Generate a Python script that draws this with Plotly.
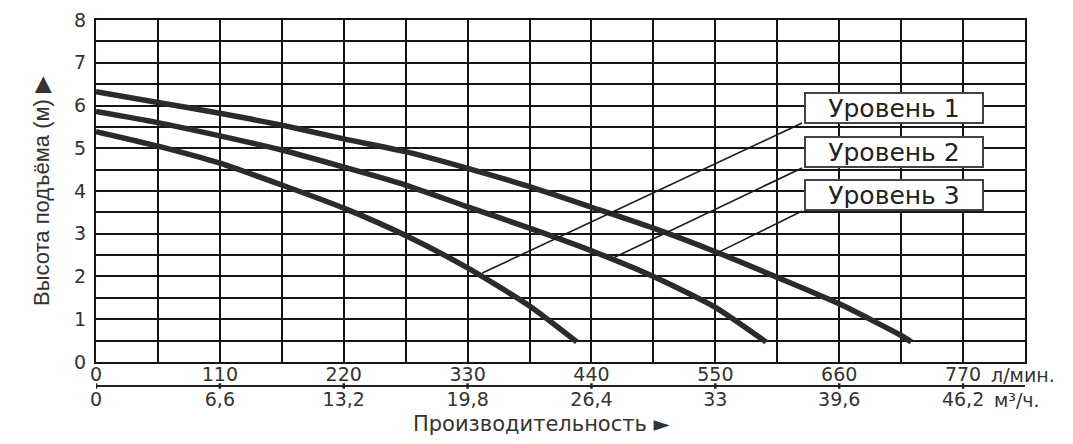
import plotly.graph_objects as go

# расход, л/мин и напор, м для трёх уровней
FLOW_L1 = [0, 55, 110, 165, 220, 275, 330, 385, 427]
HEAD_L1 = [5.39, 5.05, 4.65, 4.14, 3.60, 2.96, 2.20, 1.31, 0.47]

FLOW_L2 = [0, 55, 110, 165, 220, 275, 330, 385, 440, 495, 550, 595]
HEAD_L2 = [5.86, 5.60, 5.29, 4.96, 4.56, 4.14, 3.63, 3.13, 2.60, 2.00, 1.28, 0.47]

FLOW_L3 = [0, 55, 110, 165, 220, 275, 330, 385, 440, 495, 550, 605, 660, 715, 724]
HEAD_L3 = [6.32, 6.07, 5.82, 5.54, 5.22, 4.92, 4.53, 4.10, 3.62, 3.13, 2.58, 1.98, 1.36, 0.62, 0.47]

LEVEL_NAMES = ["Уровень 1", "Уровень 2", "Уровень 3"]

# подписи осей
LPM_TICKS = [0, 110, 220, 330, 440, 550, 660, 770]
M3H_TICKS = [0, 6.6, 13.2, 19.8, 26.4, 33, 39.6, 46.2]
M3H_LABELS = ["0", "6,6", "13,2", "19,8", "26,4", "33", "39,6", "46,2"]
HEAD_TICKS = [0, 1, 2, 3, 4, 5, 6, 7, 8]

# выноски: точка на кривой -> угол рамки подписи
LEADER_END_X = [343, 459, 553]
LEADER_END_Y = [2.08, 2.43, 2.57]
LEADER_START_X = [627, 627, 627]
LEADER_START_Y = [5.59, 4.54, 3.53]
LABEL_X = [709, 709, 709]
LABEL_Y = [5.94, 4.91, 3.91]

X_MAX = 825
AXIS2_POS = 0.069
SCALE_LINE_POS = 0.071
LINE = "#2b2b2b"
GRID = "#151515"
TEXT = "#333333"
FONT = "DejaVu Sans"

fig = go.Figure()
for fx, hy in [(FLOW_L1, HEAD_L1), (FLOW_L2, HEAD_L2), (FLOW_L3, HEAD_L3)]:
    fig.add_trace(go.Scatter(
        x=fx, y=hy, mode="lines",
        line=dict(color=LINE, width=5.5, shape="spline", smoothing=0.6),
        showlegend=False, hoverinfo="skip",
    ))

# невидимый след для второй оси (м3/ч)
fig.add_trace(go.Scatter(x=[0], y=[0], xaxis="x2", mode="markers",
                         marker=dict(opacity=0), showlegend=False, hoverinfo="skip"))

for i in range(3):
    fig.add_shape(type="line", xref="x", yref="y",
                  x0=LEADER_END_X[i], y0=LEADER_END_Y[i],
                  x1=LEADER_START_X[i], y1=LEADER_START_Y[i],
                  line=dict(color="#1a1a1a", width=1.6))
    fig.add_annotation(x=LABEL_X[i], y=LABEL_Y[i], xref="x", yref="y",
                       text=LEVEL_NAMES[i], showarrow=False,
                       font=dict(family=FONT, size=25, color="#222222"),
                       bgcolor="white", bordercolor="#444444", borderwidth=2,
                       borderpad=1, width=174, height=26)

# линия второй шкалы между двумя рядами подписей
fig.add_shape(type="line", xref="x", yref="paper", x0=0, x1=X_MAX,
              y0=SCALE_LINE_POS, y1=SCALE_LINE_POS, line=dict(color="#222222", width=2))
for v in LPM_TICKS:
    fig.add_shape(type="line", xref="x", yref="paper", x0=v, x1=v,
                  y0=SCALE_LINE_POS - 0.007, y1=SCALE_LINE_POS + 0.007,
                  line=dict(color="#222222", width=2.5))

# единицы измерения после последних подписей
fig.add_annotation(x=793, y=0.098, xref="x", yref="paper", xanchor="left",
                   yanchor="middle", text="л/мин.", showarrow=False,
                   font=dict(family=FONT, size=19, color=TEXT))
fig.add_annotation(x=796, y=0.036, xref="x", yref="paper", xanchor="left",
                   yanchor="middle", text="м³/ч.", showarrow=False,
                   font=dict(family=FONT, size=19, color=TEXT))
fig.add_annotation(x=0.48, y=-0.026, xref="paper", yref="paper",
                   xanchor="center", yanchor="middle",
                   text="Производительность ►", showarrow=False,
                   font=dict(family=FONT, size=21, color=TEXT))

# страница добавляет отступ 8px, поэтому размеры и поля уменьшены
fig.update_layout(
    width=1057, height=428,
    margin=dict(l=88, r=40, t=12, b=22),
    plot_bgcolor="white", paper_bgcolor="white",
    font=dict(family=FONT, size=19, color=TEXT),
    xaxis=dict(
        range=[0, X_MAX], tickvals=LPM_TICKS, ticktext=[str(v) for v in LPM_TICKS],
        showgrid=True, gridcolor=GRID, gridwidth=2,
        minor=dict(dtick=55, tick0=0, showgrid=True, gridcolor=GRID, gridwidth=2),
        showline=True, linecolor=GRID, linewidth=2, mirror=True,
        zeroline=False, ticks="", ticklabelstandoff=-6,
        anchor="y", automargin=False,
    ),
    xaxis2=dict(
        range=[0, X_MAX * 0.06], overlaying="x", anchor="free", position=AXIS2_POS,
        side="bottom", tickvals=M3H_TICKS, ticktext=M3H_LABELS,
        showgrid=False, zeroline=False, showline=False,
        ticks="", ticklabelstandoff=-1, automargin=False,
    ),
    yaxis=dict(
        range=[0, 8], tickvals=HEAD_TICKS, domain=[0.132, 1],
        showgrid=True, gridcolor=GRID, gridwidth=2,
        minor=dict(dtick=0.5, tick0=0, showgrid=True, gridcolor=GRID, gridwidth=2),
        showline=True, linecolor=GRID, linewidth=2, mirror=True,
        zeroline=False, ticks="", ticklabelstandoff=4, automargin=False,
        title=dict(text="Высота подъёма (м) ▶", standoff=18,
                   font=dict(family="Liberation Sans", size=22, color=TEXT)),
    ),
)

fig.write_html("out.html")
